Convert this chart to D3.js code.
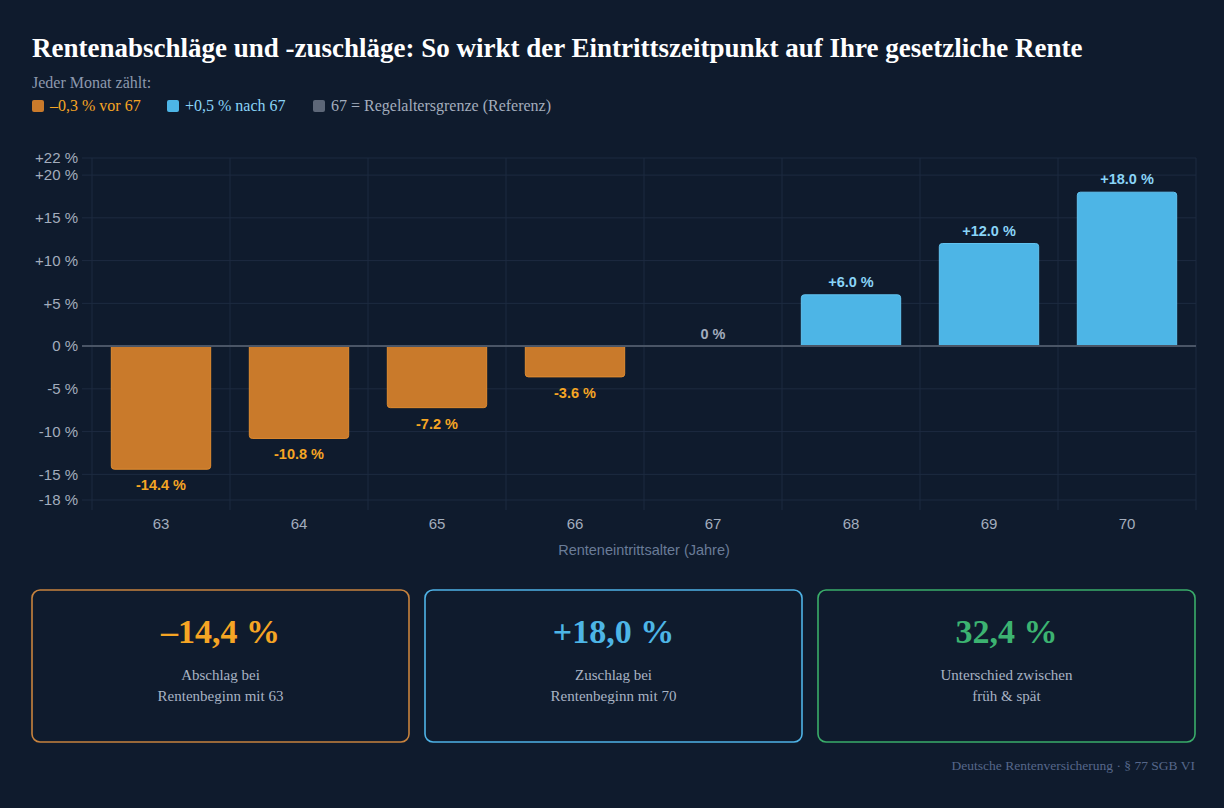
<!DOCTYPE html>
<html>
<head>
<meta charset="utf-8">
<script src="https://cdn.jsdelivr.net/npm/d3@7"></script>
<style>
  html, body { margin: 0; padding: 0; background: #0f1b2d; }
  svg { display: block; }
</style>
</head>
<body>
<svg id="chart"></svg>
<script>
// data
var ages = [63, 64, 65, 66, 67, 68, 69, 70];
var values = [-14.4, -10.8, -7.2, -3.6, 0, 6.0, 12.0, 18.0];
var yTicks = [-18, -15, -10, -5, 0, 5, 10, 15, 20, 22];
var legendItems = ["\u20130,3 % vor 67", "+0,5 % nach 67", "67 = Regelaltersgrenze (Referenz)"];
var cardValues = ["\u201314,4 %", "+18,0 %", "32,4 %"];
var cardLines = [["Abschlag bei", "Rentenbeginn mit 63"], ["Zuschlag bei", "Rentenbeginn mit 70"], ["Unterschied zwischen", "fr\u00fch & sp\u00e4t"]];

var W = 1224, H = 808;
var serif = "'Liberation Serif', 'Times New Roman', serif";
var sans = "'Liberation Sans', Arial, Helvetica, sans-serif";
var orange = "#c97a2b", orangeEdge = "#e08c30", orangeText = "#f5a524";
var blue = "#4db5e6", blueEdge = "#62c3f0", blueText = "#8ad4f7";
var grayText = "#a3adbd", green = "#3aad6a";

var svg = d3.select("#chart").attr("width", W).attr("height", H);
svg.append("rect").attr("width", W).attr("height", H).attr("fill", "#0f1b2d");

// title + legend
svg.append("text").attr("x", 32).attr("y", 57)
    .style("font-family", serif).style("font-weight", "bold").style("font-size", "27px")
    .attr("fill", "#ffffff")
    .text("Rentenabschläge und -zuschläge: So wirkt der Eintrittszeitpunkt auf Ihre gesetzliche Rente");
svg.append("text").attr("x", 32).attr("y", 88)
    .style("font-family", serif).style("font-size", "16px").attr("fill", "#8d99ad")
    .text("Jeder Monat zählt:");

var legendX = [32, 167, 313];
var legendSw = [orange, blue, "#5d6778"];
var legendCol = [orangeText, blueText, grayText];
legendItems.forEach(function (t, i) {
    svg.append("rect").attr("x", legendX[i]).attr("y", 100).attr("width", 12).attr("height", 12)
        .attr("rx", 2).attr("fill", legendSw[i]);
    svg.append("text").attr("x", legendX[i] + 18).attr("y", 111)
        .style("font-family", serif).style("font-size", "16px").attr("fill", legendCol[i])
        .text(t);
});

// scales
var x = d3.scaleBand().domain(ages).range([92, 1196]).padding(0);
var y = d3.scaleLinear().domain([-18, 22]).range([500, 158]);
var barW = x.bandwidth() * 0.72;

var grid = svg.append("g");
// vertical grid lines on band edges
var edges = ages.map(function (a) { return x(a); }).concat([x.range()[1]]);
grid.selectAll(".vg").data(edges).enter().append("line")
    .attr("x1", function (d) { return d; }).attr("x2", function (d) { return d; })
    .attr("y1", y(22)).attr("y2", y(-18) + 10)
    .attr("stroke", "#1d2b40").attr("stroke-width", 1);
grid.selectAll(".hg").data(yTicks).enter().append("line")
    .attr("x1", 82).attr("x2", 1196)
    .attr("y1", function (d) { return y(d); }).attr("y2", function (d) { return y(d); })
    .attr("stroke", function (d) { return d === 0 ? "none" : "#1d2b40"; }).attr("stroke-width", 1);

// y tick labels
svg.append("g").selectAll("text").data(yTicks).enter().append("text")
    .attr("x", 78).attr("y", function (d) { return y(d); })
    .attr("dy", "0.35em").attr("text-anchor", "end")
    .style("font-family", sans).style("font-size", "15px").attr("fill", grayText)
    .text(function (d) { return (d > 0 ? "+" : "") + d + " %"; });

// x tick labels
svg.append("g").selectAll("text").data(ages).enter().append("text")
    .attr("x", function (d) { return x(d) + x.bandwidth() / 2; }).attr("y", 529)
    .attr("text-anchor", "middle")
    .style("font-family", sans).style("font-size", "15px").attr("fill", grayText)
    .text(function (d) { return d; });
svg.append("text").attr("x", 644).attr("y", 555).attr("text-anchor", "middle")
    .style("font-family", sans).style("font-size", "14.5px").attr("fill", "#6a7c98")
    .text("Renteneintrittsalter (Jahre)");

// bars with rounded outer end
function barPath(x0, w, v) {
    var y0 = y(0), y1 = y(v), r = 3;
    if (v > 0) {
        return "M" + x0 + "," + y0 + "V" + (y1 + r) + "Q" + x0 + "," + y1 + " " + (x0 + r) + "," + y1 +
            "H" + (x0 + w - r) + "Q" + (x0 + w) + "," + y1 + " " + (x0 + w) + "," + (y1 + r) + "V" + y0 + "Z";
    }
    return "M" + x0 + "," + y0 + "V" + (y1 - r) + "Q" + x0 + "," + y1 + " " + (x0 + r) + "," + y1 +
        "H" + (x0 + w - r) + "Q" + (x0 + w) + "," + y1 + " " + (x0 + w) + "," + (y1 - r) + "V" + y0 + "Z";
}
var data = ages.map(function (a, i) { return { age: a, v: values[i] }; });
svg.append("g").selectAll("path").data(data.filter(function (d) { return d.v !== 0; })).enter().append("path")
    .attr("d", function (d) { return barPath(x(d.age) + (x.bandwidth() - barW) / 2, barW, d.v); })
    .attr("fill", function (d) { return d.v < 0 ? orange : blue; })
    .attr("stroke", function (d) { return d.v < 0 ? orangeEdge : blueEdge; })
    .attr("stroke-width", 1);

// zero line
svg.append("line").attr("x1", 82).attr("x2", 1196).attr("y1", y(0)).attr("y2", y(0))
    .attr("stroke", "#4a5566").attr("stroke-width", 2);

// value labels
svg.append("g").selectAll("text").data(data).enter().append("text")
    .attr("x", function (d) { return x(d.age) + x.bandwidth() / 2; })
    .attr("y", function (d) { return d.v > 0 ? y(d.v) - 8 : d.v < 0 ? y(d.v) + 21 : y(0) - 7; })
    .attr("text-anchor", "middle")
    .style("font-family", sans).style("font-weight", "bold").style("font-size", "14.5px")
    .attr("fill", function (d) { return d.v < 0 ? orangeText : d.v > 0 ? blueText : grayText; })
    .text(function (d) { return d.v === 0 ? "0 %" : (d.v > 0 ? "+" : "") + d.v.toFixed(1) + " %"; });

// cards
var cardX = [32, 425, 818], cardW = 377;
var cardCol = [ "#c8833e", "#4fb3e6", green];
var cardTxt = [orangeText, "#4db5e6", "#3cb371"];
cardValues.forEach(function (v, i) {
    var cx = cardX[i] + cardW / 2;
    svg.append("rect").attr("x", cardX[i]).attr("y", 590).attr("width", cardW).attr("height", 152)
        .attr("rx", 8).attr("fill", "none").attr("stroke", cardCol[i]).attr("stroke-width", 1.6);
    svg.append("text").attr("x", cx).attr("y", 643).attr("text-anchor", "middle")
        .style("font-family", serif).style("font-weight", "bold").style("font-size", "34px")
        .attr("fill", cardTxt[i]).text(v);
    cardLines[i].forEach(function (l, j) {
        svg.append("text").attr("x", cx).attr("y", 680 + j * 21).attr("text-anchor", "middle")
            .style("font-family", serif).style("font-size", "15px").attr("fill", "#a8b3c4").text(l);
    });
});

svg.append("text").attr("x", 1195).attr("y", 770).attr("text-anchor", "end")
    .style("font-family", serif).style("font-size", "13.5px").attr("fill", "#56678a")
    .text("Deutsche Rentenversicherung · § 77 SGB VI");
</script>
</body>
</html>
